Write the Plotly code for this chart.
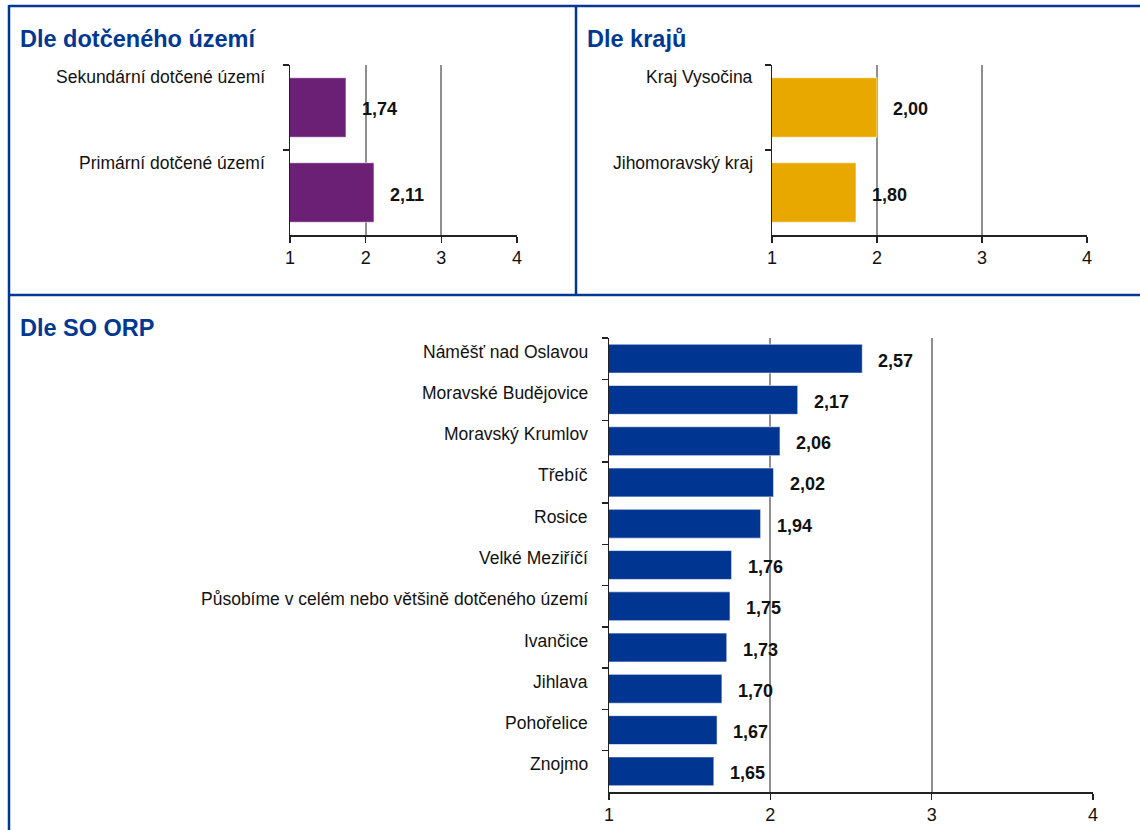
import plotly.graph_objects as go

W, H = 1140, 830

# ---- data ----
uzemi_cats = ["Sekundární dotčené území", "Primární dotčené území"]
uzemi_vals = [1.74, 2.11]

kraje_cats = ["Kraj Vysočina", "Jihomoravský kraj"]
kraje_vals = [2.00, 1.80]

orp_cats = ["Náměšť nad Oslavou", "Moravské Budějovice", "Moravský Krumlov", "Třebíč",
            "Rosice", "Velké Meziříčí", "Působíme v celém nebo většině dotčeného území",
            "Ivančice", "Jihlava", "Pohořelice", "Znojmo"]
orp_vals = [2.57, 2.17, 2.06, 2.02, 1.94, 1.76, 1.75, 1.73, 1.70, 1.67, 1.65]

x_ticks = [1, 2, 3, 4]
titles = ["Dle dotčeného území", "Dle krajů", "Dle SO ORP"]

# ---- styling ----
BLUE = "#003893"
SANS = "Liberation Sans, Arial, sans-serif"

def px(x):
    return x / W

def py(y):
    return 1 - y / H

panels = [
    # cats, vals, color, xaxis, yaxis, x0,x1,y0,y1 (pixels), label right px, label yshift
    (uzemi_cats, uzemi_vals, "#6B1F75", "x", "y", 290, 517, 65, 235, 267, 30),
    (kraje_cats, kraje_vals, "#E8A800", "x2", "y2", 772, 1087, 65, 235, 755, 30),
    (orp_cats, orp_vals, "#003591", "x3", "y3", 609, 1093, 338, 792, 590, 7),
]

fig = go.Figure()
annotations = []
layout = {}
for i, (cats, vals, col, xa, ya, x0, x1, y0, y1, lab_r, lab_shift) in enumerate(panels):
    fig.add_trace(go.Bar(
        x=vals, y=cats, orientation="h", base=0,
        marker=dict(color=col, line=dict(color="rgba(255,255,255,0.6)", width=1)),
        width=0.7, xaxis=xa, yaxis=ya, hoverinfo="skip", showlegend=False,
    ))
    xname = "xaxis" if xa == "x" else "xaxis" + xa[1:]
    yname = "yaxis" if ya == "y" else "yaxis" + ya[1:]
    layout[xname] = dict(
        domain=[px(x0), px(x1)], range=[1, 4], anchor=ya, automargin=False,
        tickvals=x_ticks, ticktext=[str(t) for t in x_ticks],
        showgrid=True, gridcolor="#8f8f8f", gridwidth=2,
        showline=True, linecolor="#222222", linewidth=1.5,
        ticks="outside", ticklen=6, tickcolor="#222222", tickwidth=1.5,
        tickfont=dict(family=SANS, size=18, color="#111111"),
        zeroline=False, fixedrange=True,
    )
    layout[yname] = dict(
        domain=[py(y1), py(y0)], anchor=xa, type="category", automargin=False,
        categoryorder="array", categoryarray=cats, autorange="reversed",
        showticklabels=False, tickson="boundaries",
        ticks="outside", ticklen=6, tickcolor="#222222", tickwidth=1.5,
        showline=True, linecolor="#222222", linewidth=1.5,
        showgrid=False, zeroline=False, fixedrange=True,
    )
    for c, v in zip(cats, vals):
        annotations.append(dict(
            x=v, y=c, xref=xa, yref=ya, xanchor="left", yanchor="middle",
            xshift=14, yshift=-2,
            text="<b>" + f"{v:.2f}".replace(".", ",") + "</b>", showarrow=False,
            font=dict(family=SANS, size=18, color="#111111"),
        ))
        annotations.append(dict(
            x=px(lab_r), y=c, xref="paper", yref=ya, xanchor="right", yanchor="middle",
            yshift=lab_shift, text=c, showarrow=False,
            font=dict(family=SANS, size=17.5, color="#111111"),
        ))

title_pos = [(18, 39), (585, 39), (18, 328)]
for t, (tx, ty) in zip(titles, title_pos):
    annotations.append(dict(
        x=px(tx), y=py(ty), xref="paper", yref="paper", xanchor="left", yanchor="middle",
        text="<b>" + t + "</b>", showarrow=False,
        font=dict(family=SANS, size=23.5, color=BLUE),
    ))

line = dict(color=BLUE, width=2.5)
shapes = [
    dict(type="line", xref="paper", yref="paper", x0=px(9), x1=px(9), y0=py(5), y1=0, line=line),
    dict(type="line", xref="paper", yref="paper", x0=px(9), x1=1, y0=py(6), y1=py(6), line=line),
    dict(type="line", xref="paper", yref="paper", x0=px(576), x1=px(576), y0=py(6), y1=py(295), line=line),
    dict(type="line", xref="paper", yref="paper", x0=px(9), x1=1, y0=py(295), y1=py(295), line=line),
]

fig.update_layout(
    width=W, height=H, margin=dict(l=0, r=0, t=0, b=0, pad=0, autoexpand=False),
    paper_bgcolor="white", plot_bgcolor="white",
    annotations=annotations, shapes=shapes, bargap=0.3,
    **layout,
)

fig.write_html(
    "out.html",
    config={"displayModeBar": False, "staticPlot": True},
    post_script="document.body.style.margin='0';document.body.style.overflow='hidden';",
)
